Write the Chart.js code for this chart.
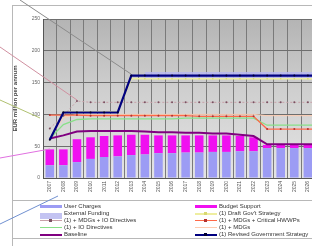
<!DOCTYPE html>
<html>
<head>
<meta charset="utf-8">
<script src="https://cdn.jsdelivr.net/npm/chart.js@4.4.1/dist/chart.umd.min.js"></script>
<style>
  html, body { margin: 0; padding: 0; background: #fff; }
  body { width: 312px; height: 246px; overflow: hidden; position: relative; font-family: "Liberation Sans", Arial, sans-serif; }
  #wrap { position: absolute; left: 0; top: 0; }
  .frame { position: absolute; background: #b8b8b8; }
  #legend { position: absolute; left: 0; top: 0; width: 312px; height: 246px; pointer-events: none; }
  .item { position: absolute; height: 7px; font-size: 6px; line-height: 7px; color: #333; white-space: nowrap; }
  .sample { position: absolute; top: 3px; width: 22px; }
  .dot { position: absolute; top: -1px; left: 9px; width: 3px; height: 3px; }
  .label { position: absolute; left: 24px; top: 0; }
  svg { position: absolute; left: 0; top: 0; pointer-events: none; }
</style>
</head>
<body>
<div id="wrap"><canvas id="chart" width="380" height="198" style="width:380px;height:198px"></canvas></div>
<div class="frame" style="left:12px;top:5px;width:300px;height:1px"></div>
<div class="frame" style="left:12px;top:5px;width:1px;height:241px"></div>
<div class="frame" style="left:12px;top:200px;width:300px;height:1px"></div>
<div class="frame" style="left:12px;top:238px;width:300px;height:1px"></div>
<div id="legend"></div>
<svg width="312" height="246">
  <line x1="20" y1="0" x2="131" y2="74" stroke="#8a8a8a" stroke-width="1"/>
  <line x1="0" y1="47" x2="77" y2="100" stroke="#d090a0" stroke-width="1"/>
  <line x1="0" y1="100" x2="40" y2="118" stroke="#b0c070" stroke-width="1"/>
  <line x1="0" y1="158" x2="50" y2="149" stroke="#e070e0" stroke-width="1"/>
  <line x1="0" y1="224" x2="58" y2="196" stroke="#7090d0" stroke-width="1"/>
</svg>
<script>
const years = ["2007", "2008", "2009", "2010", "2011", "2012", "2013", "2014", "2015", "2016", "2017", "2018",
  "2019", "2020", "2021", "2022", "2023", "2024", "2025", "2026", "2027", "2028", "2029", "2030"];

// stacked bars
const userCharges = [20, 20, 25, 30, 33, 34, 36, 37, 39, 39, 40, 40, 41, 41, 42, 42, 47, 47, 47, 47, 47, 47, 47, 47];
const budgetSupport = [25, 25, 36, 34, 33, 33, 32, 31, 28, 28, 27, 27, 26, 26, 24, 22, 5, 5, 5, 5, 5, 5, 5, 5];

// lines
const externalFunding = [null, null, null, null, null, null, null, 162, 162, 162, 162, 162, 162, 162, 162, 162, 162, 162, 162, 162, 162, 162, 162, 162];
const draftStrategy = [60, 104, 104, 104, 104, 104, 156, 156, 156, 156, 156, 156, 156, 156, 156, 156, 156, 156, 156, 156, 156, 156, 156, 156];
const mdgsIO = [78, 98, 121, 119, 119, 119, 119, 119, 119, 119, 119, 119, 119, 119, 119, 119, 119, 119, 119, 119, 119, 119, 119, 119];
const mdgsCritical = [99, 99, 99, 98, 98, 98, 98, 98, 98, 98, 98, 97, 97, 97, 97, 97, 77, 77, 77, 77, 77, 77, 77, 77];
const mdgs = [62, 95, 100, 100, 100, 100, 100, 100, 100, 100, 100, 100, 100, 100, 100, 100, 98, 98, 98, 98, 98, 98, 98, 98];
const ioDirectives = [62, 84, 92, 93, 93, 93, 93, 93, 93, 93, 94, 94, 94, 94, 94, 94, 83, 83, 83, 83, 83, 83, 83, 83];
const baseline = [62, 67, 73, 74, 74, 74, 74, 73, 72, 72, 71, 71, 70, 70, 68, 66, 53, 53, 53, 53, 53, 53, 53, 53];
const revisedStrategy = [60, 103, 103, 103, 103, 103, 161, 161, 161, 161, 161, 161, 161, 161, 161, 161, 161, 161, 161, 161, 161, 161, 161, 161];

const yTicks = [0, 50, 100, 150, 200, 250];

const lineDs = (label, data, color, width, opts) => Object.assign({
  type: "line",
  label: label,
  data: data,
  borderColor: color,
  backgroundColor: color,
  borderWidth: width,
  pointRadius: 0,
  tension: 0,
  stack: label,
  order: 1,
  spanGaps: false,
}, opts || {});

const datasets = [
  { type: "bar", label: "User Charges", data: userCharges, backgroundColor: "#9c9cf4", stack: "bars", order: 10, col: 0 },
  { type: "bar", label: "Budget Support", data: budgetSupport, backgroundColor: "#f010f0", stack: "bars", order: 10, col: 1 },
  lineDs("External Funding", externalFunding, "rgba(185,185,240,0.85)", 6, { order: 3, col: 0 }),
  lineDs("(1) Draft Gov't Strategy", draftStrategy, "#eeeea0", 1.5, { order: 2, col: 1, pointRadius: 0.8, pointBackgroundColor: "#d8d870", pointBorderWidth: 0 }),
  lineDs("(1) + MDGs + IO Directives", mdgsIO, "#c8a0a8", 1, { borderDash: [2, 2], col: 0, pointRadius: 1, pointBorderWidth: 0, pointBackgroundColor: "#7a5060" }),
  lineDs("(1) + MDGs + Critical HWWPs", mdgsCritical, "#ff6848", 1.3, { col: 1, pointRadius: 1, pointBorderWidth: 0, pointBackgroundColor: "#b03030" }),
  lineDs("(1) + IO Directives", ioDirectives, "#88e088", 1.3, { col: 0 }),
  lineDs("(1) + MDGs", mdgs, "#ffccb0", 1, { col: 1 }),
  lineDs("Baseline", baseline, "#800080", 2, { order: 1, col: 0 }),
  lineDs("(1) Revised Government Strategy", revisedStrategy, "#000080", 2.2, { order: 0, col: 1, pointRadius: 1, pointBorderWidth: 0, pointBackgroundColor: "#000030" }),
];

const plotBg = {
  id: "plotBg",
  beforeDraw(chart) {
    const { ctx, chartArea: a } = chart;
    const g = ctx.createLinearGradient(0, a.top, 0, a.bottom);
    g.addColorStop(0, "#b4b4b4");
    g.addColorStop(0.45, "#cfcfcf");
    g.addColorStop(1, "#e4e4e4");
    ctx.save();
    ctx.fillStyle = g;
    ctx.fillRect(a.left, a.top, a.right - a.left, a.bottom - a.top);
    ctx.restore();
  },
};

const chart = new Chart(document.getElementById("chart"), {
  type: "bar",
  data: { labels: years, datasets: datasets },
  options: {
    responsive: false,
    animation: false,
    devicePixelRatio: 1,
    layout: { padding: { left: 12, top: 19, right: 11, bottom: 0 } },
    datasets: { bar: { categoryPercentage: 0.9, barPercentage: 0.7 } },
    plugins: { legend: { display: false }, tooltip: { enabled: false } },
    scales: {
      x: {
        stacked: true,
        afterFit: (s) => { s.height = 20; },
        grid: { color: "#7a7a7a", lineWidth: 1, offset: true, drawTicks: false },
        border: { color: "#555" },
        ticks: { font: { size: 5, family: "Liberation Sans" }, color: "#555", minRotation: 90, maxRotation: 90, autoSkip: false, padding: 3 },
      },
      y: {
        stacked: true,
        min: 0,
        max: 250,
        afterFit: (s) => { s.width = 31; },
        afterBuildTicks: (s) => { s.ticks = yTicks.map((v) => ({ value: v })); },
        grid: { color: "#6e6e6e", lineWidth: 1, drawTicks: false },
        border: { color: "#555" },
        ticks: { font: { size: 5, family: "Liberation Sans" }, color: "#666", padding: 3 },
        title: { display: true, text: "EUR million per annum", font: { size: 6, weight: "bold", family: "Liberation Sans" }, color: "#444", padding: 0 },
      },
    },
  },
  plugins: [plotBg],
});

// two-column legend under the plot
const legend = document.getElementById("legend");
const colX = [40, 195];
const rowY = [203, 210, 217, 224, 231];
const rowCount = [0, 0];
chart.data.datasets.forEach((ds) => {
  const c = ds.col;
  const item = document.createElement("div");
  item.className = "item";
  item.style.left = colX[c] + "px";
  item.style.top = rowY[rowCount[c]++] + "px";
  const s = document.createElement("div");
  s.className = "sample";
  const isBar = ds.type === "bar";
  const h = isBar ? 3 : Math.max(1, Math.round(ds.borderWidth));
  s.style.height = h + "px";
  s.style.marginTop = (isBar ? -1 : 0) + "px";
  s.style.background = isBar ? ds.backgroundColor : ds.borderColor;
  if (ds.pointRadius) {
    const d = document.createElement("div");
    d.className = "dot";
    d.style.background = ds.pointBackgroundColor;
    s.appendChild(d);
  }
  const t = document.createElement("span");
  t.className = "label";
  t.textContent = ds.label;
  item.appendChild(s);
  item.appendChild(t);
  legend.appendChild(item);
});
</script>
</body>
</html>
